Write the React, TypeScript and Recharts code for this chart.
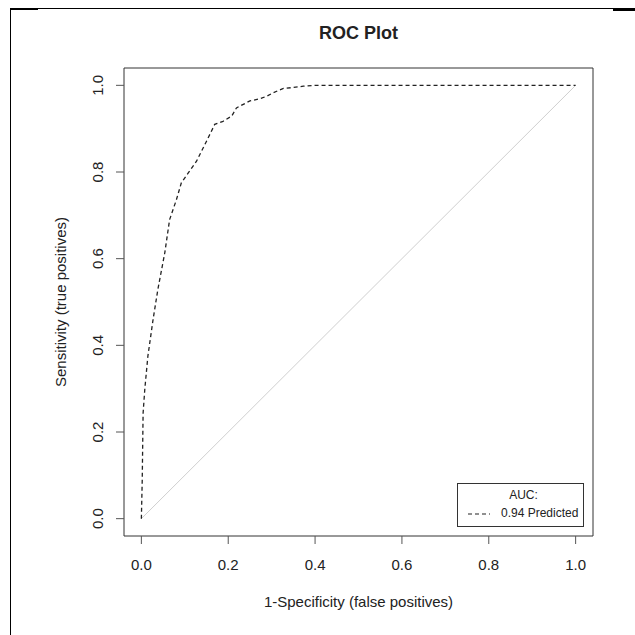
import { LineChart, Line, XAxis, YAxis, Legend, ReferenceArea, Label } from "recharts";

// ROC curve: false positive rate vs true positive rate
const fprValues = [
  0, 0.002, 0.004, 0.008, 0.015, 0.027, 0.038, 0.054, 0.065, 0.081, 0.092, 0.108, 0.127, 0.15,
  0.169, 0.188, 0.208, 0.219, 0.25, 0.273, 0.289, 0.304, 0.327, 0.35, 0.373, 0.4, 1.0,
];
const tprValues = [
  0, 0.09, 0.244, 0.3, 0.375, 0.46, 0.529, 0.614, 0.69, 0.737, 0.775, 0.798, 0.825, 0.871,
  0.91, 0.917, 0.929, 0.948, 0.964, 0.969, 0.975, 0.983, 0.993, 0.995, 0.998, 1.0, 1.0,
];
// chance diagonal
const chanceX = [0, 1];
const chanceY = [0, 1];

const axisTicks = [0, 0.2, 0.4, 0.6, 0.8, 1.0];
const aucTitle = "AUC:";
const aucLabel = "0.94 Predicted";

const rocData = fprValues.map((x, i) => ({ x, y: tprValues[i] }));
const chanceData = chanceX.map((x, i) => ({ x, y: chanceY[i] }));

const FONT = '"Liberation Sans", Arial, sans-serif';
const INK = "#222";

function RotatedTick({ x, y, payload }: any) {
  return (
    <text
      x={x}
      y={y}
      dy="0.35em"
      textAnchor="middle"
      transform={`rotate(-90, ${x}, ${y})`}
      fill={INK}
      fontSize={15}
      fontFamily={FONT}
    >
      {Number(payload.value).toFixed(1)}
    </text>
  );
}

function AucLegend() {
  return (
    <div
      style={{
        boxSizing: "border-box",
        width: 127,
        height: 44,
        border: "1px solid #333",
        background: "#fff",
        fontFamily: FONT,
        fontSize: 12,
        color: INK,
        position: "relative",
      }}
    >
      <div style={{ position: "absolute", left: 0, width: 131, top: 4, textAlign: "center", lineHeight: "14px" }}>
        {aucTitle}
      </div>
      <svg width={22} height={4} style={{ position: "absolute", left: 10, top: 28 }}>
        <line x1={0} y1={2} x2={22} y2={2} stroke={INK} strokeWidth={1.2} strokeDasharray="4 3" />
      </svg>
      <div style={{ position: "absolute", left: 43, top: 22, lineHeight: "14px", whiteSpace: "nowrap" }}>
        {aucLabel}
      </div>
    </div>
  );
}

export default function App() {
  return (
    <div style={{ position: "absolute", left: 0, top: 0, width: 635, height: 635, background: "#fff", overflow: "hidden" }}>
      {/* page frame */}
      <div style={{ position: "absolute", left: 10, top: 8, width: 625, height: 1, background: "#000" }} />
      <div style={{ position: "absolute", left: 10, top: 8, width: 1.3, height: 627, background: "#000" }} />
      <div style={{ position: "absolute", left: 10, top: 8, width: 28, height: 2, background: "#000" }} />
      <div style={{ position: "absolute", left: 613, top: 9, width: 22, height: 2, background: "#000" }} />

      <div
        style={{
          position: "absolute",
          left: 0,
          width: 717,
          top: 23,
          textAlign: "center",
          fontFamily: FONT,
          fontWeight: "bold",
          fontSize: 18,
          lineHeight: "20px",
          color: INK,
        }}
      >
        ROC Plot
      </div>

      <div style={{ position: "absolute", left: 0, top: 0 }}>
        <LineChart width={635} height={635} margin={{ top: 68, right: 42, bottom: 0, left: 0 }}>
          <XAxis
            dataKey="x"
            type="number"
            domain={[-0.04, 1.04]}
            ticks={axisTicks}
            allowDataOverflow
            axisLine={false}
            tickSize={8}
            tickMargin={15}
            tickLine={{ stroke: "#555" }}
            tick={{ fill: INK, fontSize: 15, fontFamily: FONT }}
            tickFormatter={(v: number) => v.toFixed(1)}
            height={99}
          >
            <Label
              content={(props: any) => {
                const vb = props.viewBox || { x: 124, y: 536, width: 469 };
                return (
                  <text
                    x={vb.x + vb.width / 2}
                    y={vb.y + 66}
                    dy="0.35em"
                    textAnchor="middle"
                    fill={INK}
                    fontSize={15}
                    fontFamily={FONT}
                  >
                    1-Specificity (false positives)
                  </text>
                );
              }}
            />
          </XAxis>
          <YAxis
            dataKey="y"
            type="number"
            domain={[-0.04, 1.04]}
            ticks={axisTicks}
            allowDataOverflow
            axisLine={false}
            tickSize={8}
            tickMargin={18}
            tickLine={{ stroke: "#555" }}
            tick={<RotatedTick />}
            width={124}
          >
            <Label
              content={(props: any) => {
                const vb = props.viewBox || { x: 0, y: 68, height: 468 };
                const cx = 61;
                const cy = vb.y + vb.height / 2;
                return (
                  <text
                    x={cx}
                    y={cy}
                    dy="0.35em"
                    textAnchor="middle"
                    transform={`rotate(-90, ${cx}, ${cy})`}
                    fill={INK}
                    fontSize={15}
                    fontFamily={FONT}
                  >
                    Sensitivity (true positives)
                  </text>
                );
              }}
            />
          </YAxis>
          <Line
            data={chanceData}
            dataKey="y"
            type="linear"
            stroke="#cfcfcf"
            strokeWidth={1}
            dot={false}
            activeDot={false}
            legendType="none"
            isAnimationActive={false}
          />
          <Line
            data={rocData}
            dataKey="y"
            type="linear"
            name={aucLabel}
            stroke={INK}
            strokeWidth={1.3}
            strokeDasharray="4 3"
            dot={false}
            activeDot={false}
            isAnimationActive={false}
          />
          <ReferenceArea
            x1={-0.04}
            x2={1.04}
            y1={-0.04}
            y2={1.04}
            fill="none"
            stroke="#333"
            strokeWidth={1}
            ifOverflow="visible"
          />
          <Legend
            layout="horizontal"
            align="center"
            verticalAlign="middle"
            content={() => <AucLegend />}
            wrapperStyle={{ left: 457, top: 483, width: 127, height: 44 }}
          />
        </LineChart>
      </div>
    </div>
  );
}
